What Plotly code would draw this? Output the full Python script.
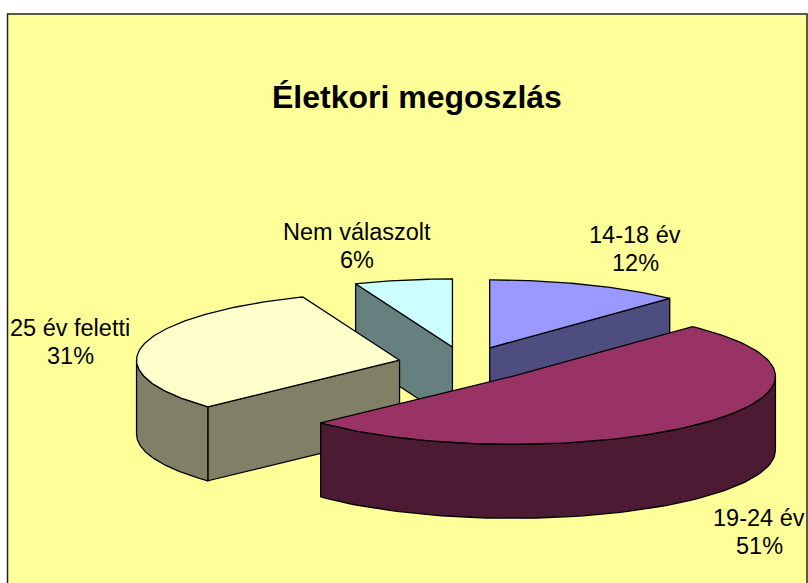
import numpy as np
import plotly.graph_objects as go

# Data
categories = ["14-18 év", "19-24 év", "25 év feletti", "Nem válaszolt"]
percentages = [12, 51, 31, 6]
top_colors = ["#9999FF", "#993366", "#FFFFCC", "#CCFFFF"]
side_colors = ["#4D4D80", "#4D1A33", "#808066", "#668080"]
label_x = [635, 759, 70, 357]
label_y = [249, 532, 342, 246]

# Pie geometry, in page pixels
CX, CY = 465, 364
RX, RY = 263, 68
DEPTH = 74
EXPLODE = 0.255


def point(angle, apex):
    '''Point on the rim of a slice, angle in degrees clockwise from the top.'''
    a = np.radians(angle)
    return apex[0] + RX * np.sin(a), apex[1] - RY * np.cos(a)


def polygon(xs, ys, color):
    return go.Scatter(x=xs, y=ys, mode="lines", fill="toself", fillcolor=color,
                      line=dict(color="black", width=1.3), hoverinfo="skip",
                      showlegend=False)


def sliceTraces(start, end, top_color, side_color):
    '''Traces for one exploded slice: visible walls first, then the top face.'''
    mid = np.radians((start + end) / 2)
    apex = (CX + EXPLODE * RX * np.sin(mid), CY - EXPLODE * RY * np.cos(mid))
    traces = []

    # Flat walls along the two cut edges, only the ones facing the viewer
    for angle, visible in ((start, start > 180), (end, end < 180)):
        if visible:
            ox, oy = point(angle, apex)
            traces.append(polygon([apex[0], ox, ox, apex[0], apex[0]],
                                  [apex[1], oy, oy + DEPTH, apex[1] + DEPTH, apex[1]],
                                  side_color))

    # Curved outer wall, the part of the rim between 90 and 270 degrees
    lo, hi = max(start, 90), min(end, 270)
    if lo < hi:
        xs, ys = point(np.linspace(lo, hi, 80), apex)
        traces.append(polygon(list(xs) + list(xs[::-1]) + [xs[0]],
                              list(ys) + list(ys[::-1] + DEPTH) + [ys[0]],
                              side_color))

    xs, ys = point(np.linspace(start, end, 120), apex)
    traces.append(polygon([apex[0]] + list(xs) + [apex[0]],
                          [apex[1]] + list(ys) + [apex[1]], top_color))
    return traces


# Slice angles from the percentages, clockwise from the top
edges = np.cumsum([0] + percentages) * 3.6
fig = go.Figure()
# Back slices first so the front ones cover them
for i in [3, 0, 2, 1]:
    fig.add_traces(sliceTraces(edges[i], edges[i + 1], top_colors[i], side_colors[i]))

label_font = dict(family="Liberation Sans", size=23.5, color="black")
for i in range(len(categories)):
    fig.add_annotation(x=label_x[i], y=label_y[i] - 14, showarrow=False,
                       text=categories[i], font=label_font)
    fig.add_annotation(x=label_x[i], y=label_y[i] + 14, showarrow=False,
                       text=str(percentages[i]) + "%", font=label_font)

fig.add_annotation(x=417, y=97, showarrow=False, text="<b>Életkori megoszlás</b>",
                   font=dict(family="Liberation Sans", size=32, color="black"))

fig.add_shape(type="rect", x0=7.5, y0=14, x1=807, y1=600, layer="below",
              fillcolor="#FFFF99", line=dict(color="#222222", width=1.5))

fig.update_layout(width=808, height=583, margin=dict(l=0, r=0, t=0, b=0),
                  paper_bgcolor="white", plot_bgcolor="white", showlegend=False)
fig.update_xaxes(range=[0, 808], visible=False)
fig.update_yaxes(range=[583, 0], visible=False)
# The page's default body margin would push the chart off by 8px
fig.write_html("out.html", config=dict(displayModeBar=False),
               post_script="document.body.style.margin = '0';")
